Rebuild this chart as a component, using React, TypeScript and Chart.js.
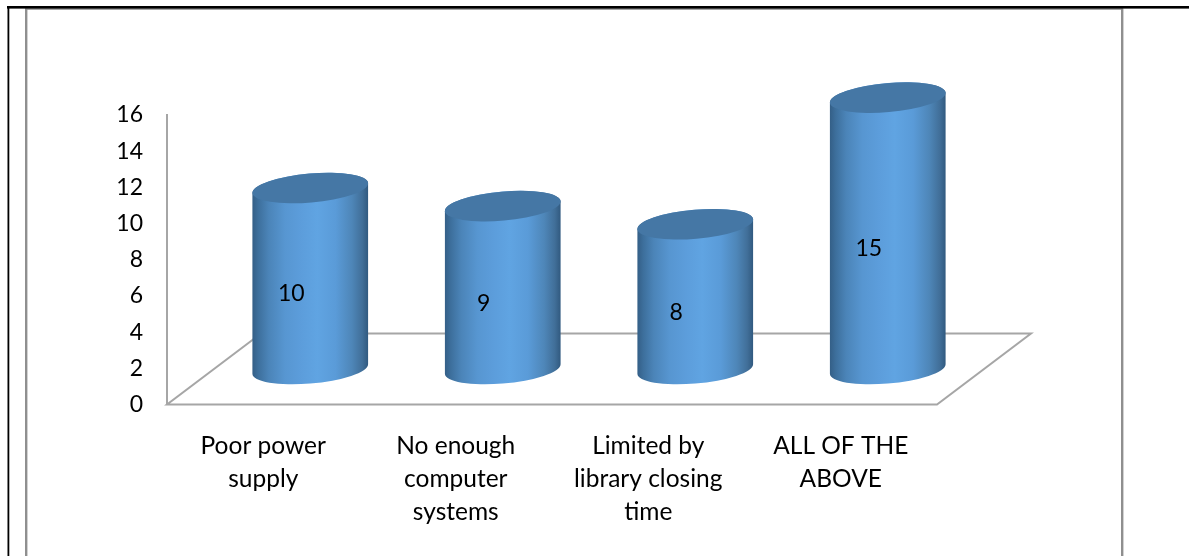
import React, { useEffect, useRef } from "react";
import { Chart, registerables } from "chart.js";

Chart.register(...registerables);

const categories = [
  ["Poor power", "supply"],
  ["No enough", "computer", "systems"],
  ["Limited by", "library closing", "time"],
  ["ALL OF THE", "ABOVE"],
];
const responses = [10, 9, 8, 15];
const FONT = "Lato, Carlito, Calibri, sans-serif";
const AXIS_SIZE = 23;
const LABEL_SIZE = 24.5;
const DEPTH_X = 94;
const DEPTH_Y = 71;
const CYL_SHIFT_X = 47;
const CYL_SHIFT_Y = 35.5;
const TILT = (-5 * Math.PI) / 180;
const CAP_MINOR = 14.5;

const cylinderPlugin = {
  id: "cylinderPlugin",
  beforeDraw(chart: any) {
    const { ctx, width, height } = chart;
    ctx.save();
    ctx.fillStyle = "#ffffff";
    ctx.fillRect(0, 0, width, height);
    // page table frame
    ctx.fillStyle = "#a6a6a6";
    ctx.fillRect(25, 8, 1098, 2);
    ctx.fillStyle = "#8f8f8f";
    ctx.fillRect(25, 8.4, 2.4, height - 8);
    ctx.fillRect(1121, 8.4, 2.4, height - 8);
    ctx.fillStyle = "#000000";
    ctx.fillRect(7, 6, width - 7, 2.6);
    ctx.fillRect(7.5, 6, 1.8, height - 6);
    ctx.restore();
  },
  beforeDatasetsDraw(chart: any) {
    const { ctx, chartArea: a } = chart;
    ctx.save();
    ctx.strokeStyle = "#a6a6a6";
    ctx.lineWidth = 2;
    ctx.lineJoin = "miter";
    ctx.beginPath();
    ctx.moveTo(a.left + DEPTH_X, a.bottom - DEPTH_Y);
    ctx.lineTo(a.left, a.bottom);
    ctx.lineTo(a.right, a.bottom);
    ctx.lineTo(a.right + DEPTH_X, a.bottom - DEPTH_Y);
    ctx.closePath();
    ctx.stroke();
    ctx.restore();
  },
  afterDatasetsDraw(chart: any) {
    const { ctx } = chart;
    const meta = chart.getDatasetMeta(0);
    meta.data.forEach((bar: any, i: number) => {
      const cx = bar.x + CYL_SHIFT_X;
      const topY = bar.y - CYL_SHIFT_Y;
      const baseY = bar.base - CYL_SHIFT_Y;
      const half = bar.width / 2;
      const a = half + 0.3;
      const b = CAP_MINOR;
      const t0 = Math.atan2(-b * Math.sin(TILT), a * Math.cos(TILT));
      ctx.save();
      const g = ctx.createLinearGradient(cx - half, 0, cx + half, 0);
      g.addColorStop(0, "#345f87");
      g.addColorStop(0.05, "#3d6f9c");
      g.addColorStop(0.14, "#4b84b8");
      g.addColorStop(0.28, "#5796d1");
      g.addColorStop(0.42, "#5c9ddb");
      g.addColorStop(0.56, "#60a4e2");
      g.addColorStop(0.72, "#5a9bd8");
      g.addColorStop(0.86, "#4e86b8");
      g.addColorStop(0.95, "#416f99");
      g.addColorStop(1, "#315a80");
      ctx.fillStyle = g;
      ctx.beginPath();
      ctx.ellipse(cx, baseY, a, b, TILT, t0, t0 + Math.PI);
      ctx.ellipse(cx, topY, a, b, TILT, t0 + Math.PI, t0 + 2 * Math.PI);
      ctx.closePath();
      ctx.fill();
      ctx.fillStyle = "#4577a5";
      ctx.beginPath();
      ctx.ellipse(cx, topY, a, b, TILT, 0, 2 * Math.PI);
      ctx.fill();
      // value label
      ctx.fillStyle = "#000000";
      ctx.font = `${AXIS_SIZE}px ${FONT}`;
      ctx.textAlign = "center";
      ctx.textBaseline = "middle";
      ctx.fillText(String(responses[i]), bar.x + 28, (bar.y + bar.base) / 2 - 20);
      ctx.restore();
    });
  },
};

export default function App() {
  const ref = useRef<HTMLCanvasElement | null>(null);
  useEffect(() => {
    if (!ref.current) return;
    const chart = new Chart(ref.current, {
      type: "bar",
      data: {
        labels: categories,
        datasets: [
          {
            data: responses,
            backgroundColor: "rgba(0,0,0,0)",
            borderWidth: 0,
            barPercentage: 0.6,
            categoryPercentage: 1,
          },
        ],
      },
      plugins: [cylinderPlugin],
      options: {
        responsive: false,
        animation: false,
        layout: { padding: { top: 115, right: 252, left: 0, bottom: 0 } },
        plugins: {
          legend: { display: false },
          title: { display: false },
          tooltip: { enabled: false },
        },
        scales: {
          x: {
            grid: { display: false, drawTicks: false },
            border: { display: false },
            afterFit: (s: any) => {
              s.height = 151.5;
            },
            ticks: {
              color: "#000000",
              maxRotation: 0,
              autoSkip: false,
              padding: 25,
              font: { family: FONT, size: LABEL_SIZE, lineHeight: 33 / LABEL_SIZE },
            },
          },
          y: {
            min: 0,
            max: 16,
            grid: { display: false, drawTicks: false },
            border: { display: true, color: "#a6a6a6", width: 2 },
            afterFit: (s: any) => {
              s.width = 167;
            },
            ticks: {
              color: "#000000",
              stepSize: 2,
              padding: 24,
              font: { family: FONT, size: AXIS_SIZE },
            },
          },
        },
      },
    } as any);
    return () => chart.destroy();
  }, []);
  return (
    <div style={{ position: "absolute", left: 0, top: 0, width: 1189, height: 556, overflow: "hidden" }}>
      <canvas ref={ref} width={1189} height={556} style={{ display: "block" }} />
    </div>
  );
}
